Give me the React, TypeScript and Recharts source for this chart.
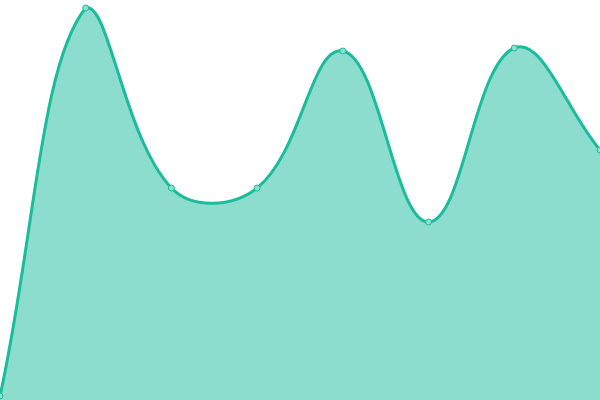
import React from 'react';
import { AreaChart, Area, XAxis, YAxis } from 'recharts';

const categories = ['A', 'B', 'C', 'D', 'E', 'F', 'G', 'H'];
const values = [4, 392, 212, 212, 349, 178, 352, 250];

const data = categories.map((name, i) => ({ name, value: values[i] }));

const WIDTH = 600;
const HEIGHT = 400;
const TENSION = 0.4;

// spline through the points, control points from neighbours (tension 0.4), capped to the plot area
const tensionCurve = (context: any) => {
    let xs: number[] = [];
    let ys: number[] = [];
    let line = NaN;
    const cap = (v: number, lo: number, hi: number) => Math.min(Math.max(v, lo), hi);

    return {
        areaStart() { line = 0; },
        areaEnd() { line = NaN; },
        lineStart() { xs = []; ys = []; },
        point(x: number, y: number) { xs.push(+x); ys.push(+y); },
        lineEnd() {
            const n = xs.length;
            if (n) {
                if (line) context.lineTo(xs[0], ys[0]);
                else context.moveTo(xs[0], ys[0]);
            }
            if (n === 2) {
                context.lineTo(xs[1], ys[1]);
            } else if (n > 2) {
                const prevCp: [number, number][] = [];
                const nextCp: [number, number][] = [];
                for (let i = 0; i < n; i++) {
                    const p = i > 0 ? i - 1 : i;
                    const q = i < n - 1 ? i + 1 : i;
                    const d01 = Math.hypot(xs[i] - xs[p], ys[i] - ys[p]);
                    const d12 = Math.hypot(xs[q] - xs[i], ys[q] - ys[i]);
                    let s01 = d01 / (d01 + d12);
                    let s12 = d12 / (d01 + d12);
                    if (isNaN(s01)) s01 = 0;
                    if (isNaN(s12)) s12 = 0;
                    const fa = TENSION * s01;
                    const fb = TENSION * s12;
                    const vx = xs[q] - xs[p];
                    const vy = ys[q] - ys[p];
                    prevCp.push([cap(xs[i] - fa * vx, 0, WIDTH), cap(ys[i] - fa * vy, 0, HEIGHT)]);
                    nextCp.push([cap(xs[i] + fb * vx, 0, WIDTH), cap(ys[i] + fb * vy, 0, HEIGHT)]);
                }
                for (let i = 0; i < n - 1; i++) {
                    context.bezierCurveTo(nextCp[i][0], nextCp[i][1], prevCp[i + 1][0], prevCp[i + 1][1], xs[i + 1], ys[i + 1]);
                }
            }
            if (line || (line !== 0 && n === 1)) context.closePath();
            line = 1 - line;
        },
    };
};

const App = () => {
    return (
        <div style={{ position: 'fixed', top: 0, left: 0, width: WIDTH, height: HEIGHT, background: '#fff' }}>
            <AreaChart width={WIDTH} height={HEIGHT} data={data} margin={{ top: 0, right: 0, bottom: 0, left: 0 }}>
                <XAxis dataKey="name" hide padding={{ left: 0, right: 0 }} />
                <YAxis hide domain={[0, 400]} />
                <Area
                    type={tensionCurve as any}
                    dataKey="value"
                    stroke="#1abc9c"
                    strokeWidth={3}
                    fill="#1abc9c"
                    fillOpacity={0.5}
                    dot={{ r: 3, fill: '#8ce0d0', stroke: '#1abc9c', strokeWidth: 1, fillOpacity: 1 }}
                    activeDot={false}
                    isAnimationActive={false}
                />
            </AreaChart>
        </div>
    );
};

export default App;
